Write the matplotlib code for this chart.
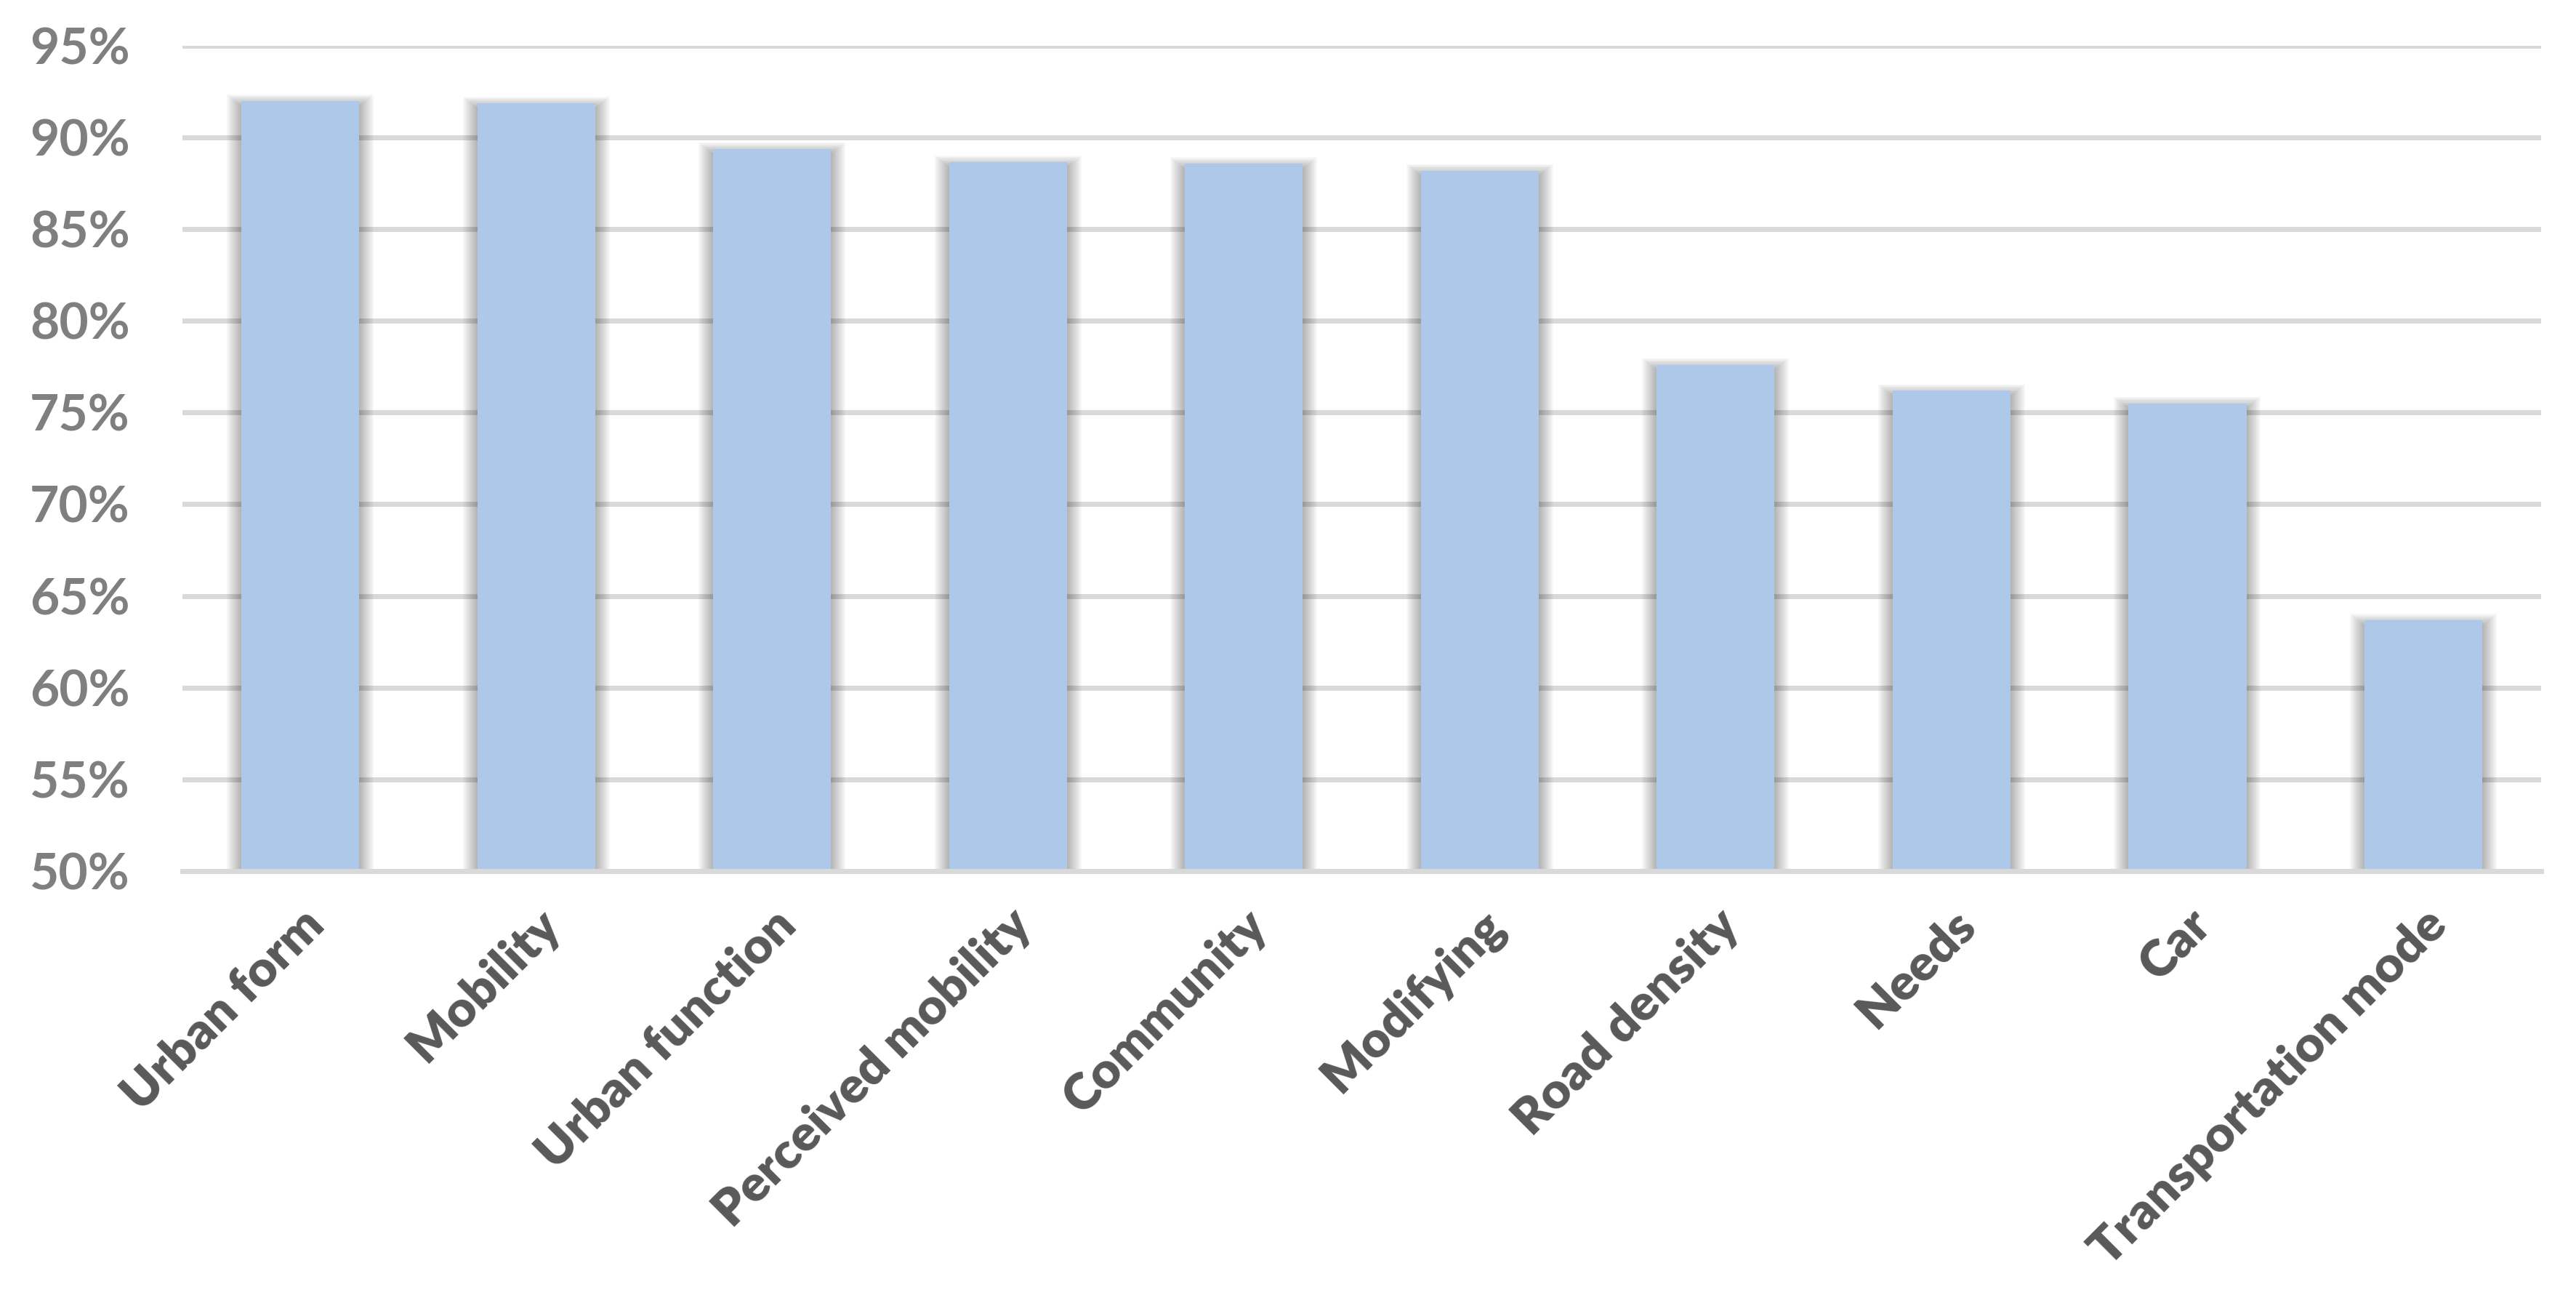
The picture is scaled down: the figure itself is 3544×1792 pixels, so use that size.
import numpy as np
import matplotlib.pyplot as plt
from matplotlib.patches import Rectangle

categories = ["Urban form", "Mobility", "Urban function", "Perceived mobility",
              "Community", "Modifying", "Road density", "Needs", "Car",
              "Transportation mode"]
values = [91.98, 91.86, 89.37, 88.64, 88.55, 88.19, 77.6, 76.18, 75.5, 63.66]
yticks = [50, 55, 60, 65, 70, 75, 80, 85, 90, 95]

BAR_COLOR = '#ADC8E8'
GRID_COLOR = '#D9D9D9'
BAR_W = 0.5

plt.rcParams['font.family'] = ['Lato', 'DejaVu Sans']

fig = plt.figure(figsize=(35.44, 17.92), dpi=100)
ax = fig.add_axes([0.0708, 0.3315, 0.9157, 0.6335])

x = np.arange(len(categories))
ax.set_xlim(-0.5, len(categories) - 0.5)
ax.set_ylim(50, 95)

# soft shadow around each bar, stronger on the sides than on top
px_x = 1.0 / 324.6
px_y = 5.0 / 126.6
for xi, v in zip(x, values):
    for i in range(1, 11):
        dx = i * 2.0 * px_x
        dy = (i * 1.6 - 7) * px_y
        ax.add_patch(Rectangle((xi - BAR_W / 2 - dx, 50), BAR_W + 2 * dx,
                               v - 50 + dy, facecolor='black', alpha=0.032,
                               edgecolor='none', zorder=2))

ax.bar(x, [v - 50 for v in values], bottom=50, width=BAR_W,
       color=BAR_COLOR, zorder=3)

ax.set_yticks(yticks)
ax.set_yticklabels([f'{t}%' for t in yticks])
ax.yaxis.grid(True, color=GRID_COLOR, linewidth=5, zorder=1)
ax.set_axisbelow(True)

ax.set_xticks(x)
ax.set_xticklabels(categories, rotation=45, ha='right', rotation_mode='anchor')

for s in ['top', 'right', 'left']:
    ax.spines[s].set_visible(False)
ax.spines['bottom'].set_color(GRID_COLOR)
ax.spines['bottom'].set_linewidth(5)
ax.spines['bottom'].set_zorder(4)

ax.tick_params(axis='y', length=0, pad=52, labelsize=50, labelcolor='#7F7F7F')
ax.tick_params(axis='x', length=0, pad=30, labelsize=50, labelcolor='#595959')
for lab in ax.get_yticklabels():
    lab.set_fontweight('bold')
for lab in ax.get_xticklabels():
    lab.set_fontweight('heavy')

fig.savefig('out.png', dpi=100, facecolor='white')
